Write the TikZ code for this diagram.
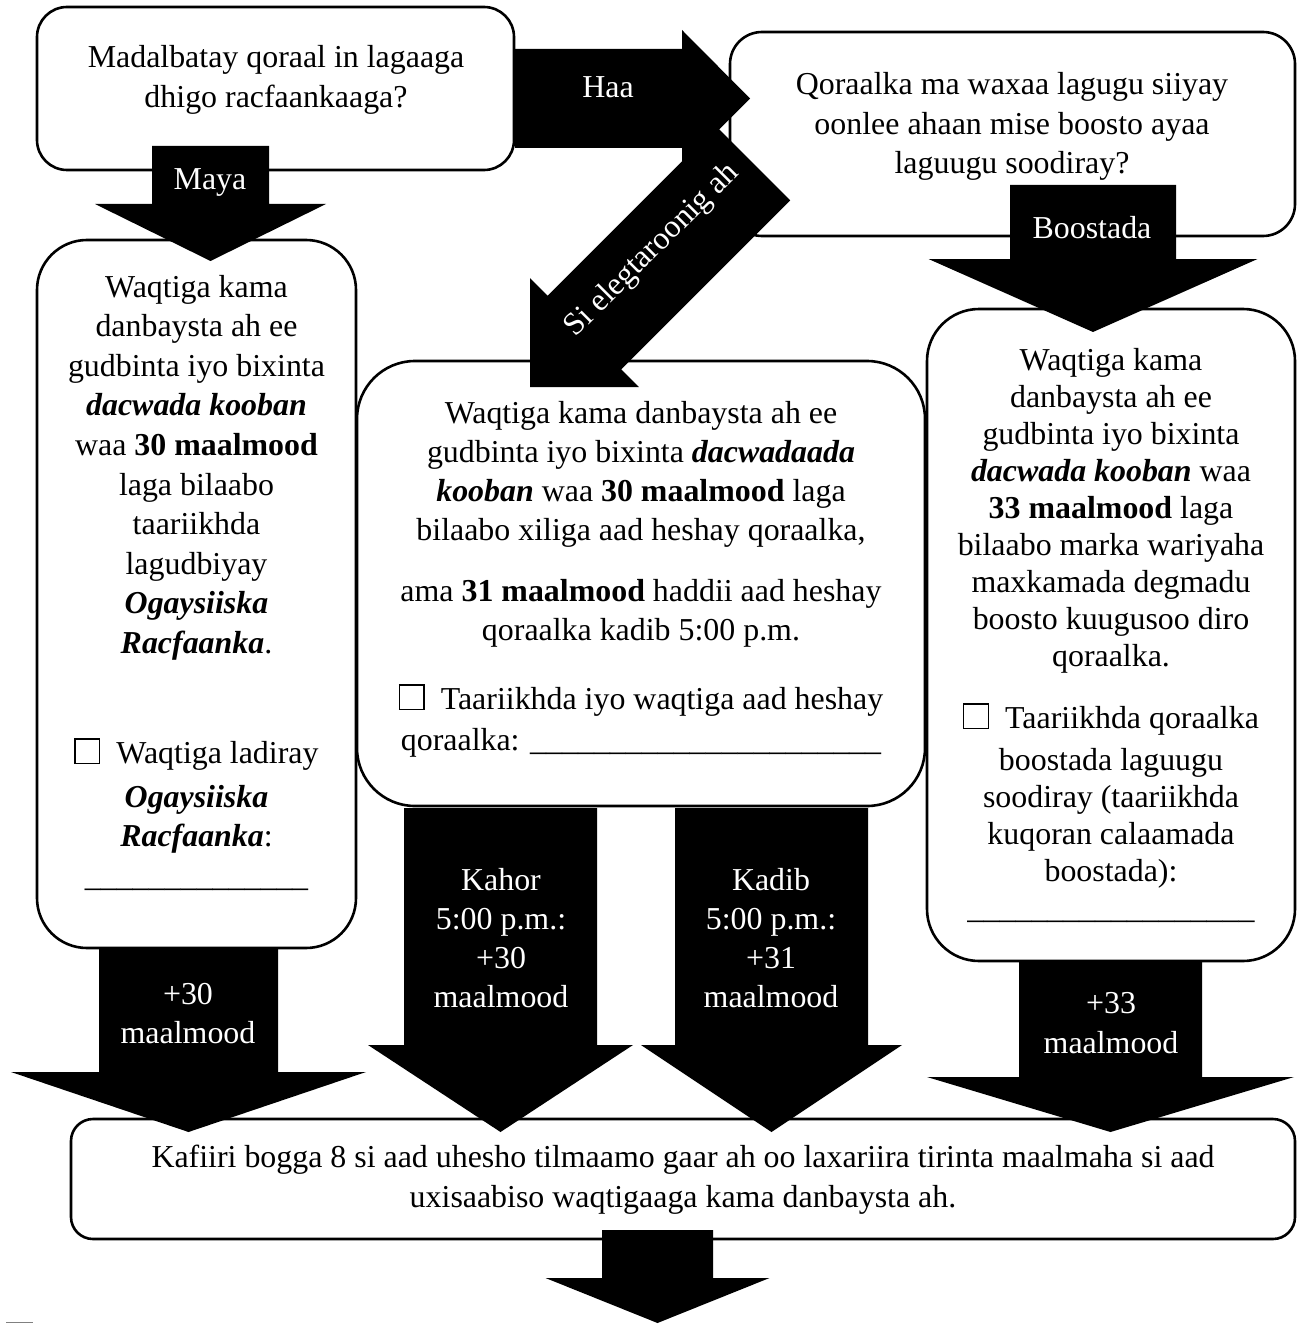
\documentclass[tikz,border=0pt]{standalone}
\usepackage{fontspec}
\setmainfont{Liberation Serif}
\usetikzlibrary{calc}

\newcommand\fl{\rule{0pt}{24pt}}
\newcommand\cbx{{\fboxsep=0pt\fboxrule=1.3pt\framebox{\rule{0pt}{23.4pt}\rule{23.4pt}{0pt}}}\hspace{16pt}}
\newcommand\bi[1]{\textbf{\textit{#1}}}
\newcommand\blockarr[5]{%
  \coordinate (tmpH) at ($(#2)!#5!(#1)$);
  \fill[arrowfill] ($(#1)!#3!90:(#2)$) -- ($(tmpH)!#3!90:(#2)$) -- ($(tmpH)!#4!90:(#2)$) -- (#2)
    -- ($(tmpH)!#4!-90:(#2)$) -- ($(tmpH)!#3!-90:(#2)$) -- ($(#1)!#3!-90:(#2)$) -- cycle;
}

\begin{document}
\begin{tikzpicture}[x=1pt,y=-1pt,
  box/.style={draw=black, line width=2.6pt, fill=white, inner sep=0pt, outer sep=0pt},
  txt/.style={anchor=north, inner sep=0pt, outer sep=0pt, align=center,
              font=\fontsize{31.9}{#1}\selectfont},
  txt/.default=40,
  lbl/.style={txt=#1, text=white},
  lbl/.default=40,
  arrowfill/.style={fill=black}]
\useasboundingbox (0,0) rectangle (1298,1324);

% ---------- boxes ----------
\node[box, rounded corners=30pt, minimum width=477pt, minimum height=163pt] (q1) at (275.5,88.5) {};
\node[box, rounded corners=32pt, minimum width=565pt, minimum height=204pt] (q2) at (1012.5,134) {};
\node[box, rounded corners=50pt, minimum width=319pt, minimum height=708pt] (bl) at (196.5,594) {};
\node[box, rounded corners=58pt, minimum width=568pt, minimum height=445pt] (bm) at (641,583.5) {};
\node[box, rounded corners=52pt, minimum width=368pt, minimum height=652pt] (br) at (1111,635) {};
\node[box, rounded corners=22pt, minimum width=1224pt, minimum height=120pt] (bb) at (683,1179) {};

% ---------- texts ----------
\node[txt=40] (t1) at (276,44) {\fl Madalbatay qoraal in lagaaga\\dhigo racfaankaaga?};
\node[txt=39.5] (t2) at (1012,71) {\fl Qoraalka ma waxaa lagugu siiyay\\oonlee ahaan mise boosto ayaa\\laguugu soodiray?};
\node[txt=39.6] (tl) at (196.5,273) {\fl Waqtiga kama\\danbaysta ah ee\\gudbinta iyo bixinta\\\bi{dacwada kooban}\\waa \textbf{30 maalmood}\\laga bilaabo\\taariikhda\\lagudbiyay\\\bi{Ogaysiiska}\\\bi{Racfaanka}.\\[70pt]\cbx Waqtiga ladiray\\[4.4pt]\bi{Ogaysiiska}\\\bi{Racfaanka}:\\\_\_\_\_\_\_\_\_\_\_\_\_\_\_};
\node[txt=39] (tm) at (641,399) {\fl Waqtiga kama danbaysta ah ee\\gudbinta iyo bixinta \bi{dacwadaada}\\\bi{kooban} waa \textbf{30 maalmood} laga\\bilaabo xiliga aad heshay qoraalka,\\[22pt]ama \textbf{31 maalmood} haddii aad heshay\\qoraalka kadib 5:00 p.m.\\[30pt]\cbx Taariikhda iyo waqtiga aad heshay\\[2pt]qoraalka: \_\_\_\_\_\_\_\_\_\_\_\_\_\_\_\_\_\_\_\_\_\_};
\node[txt=37] (tr) at (1111,346) {\fl Waqtiga kama\\danbaysta ah ee\\gudbinta iyo bixinta\\\bi{dacwada kooban} waa\\\textbf{33 maalmood} laga\\bilaabo marka wariyaha\\maxkamada degmadu\\boosto kuugusoo diro\\qoraalka.\\[25pt]\cbx Taariikhda qoraalka\\[5pt]boostada laguugu\\soodiray (taariikhda\\kuqoran calaamada\\boostada):\\\_\_\_\_\_\_\_\_\_\_\_\_\_\_\_\_\_\_};
\node[txt=40] (tb) at (683,1143) {\fl Kafiiri bogga 8 si aad uhesho tilmaamo gaar ah oo laxariira tirinta maalmaha si aad\\uxisaabiso waqtigaaga kama danbaysta ah.};

% ---------- block arrows ----------
\coordinate (mayaS) at (210.5,146);   \coordinate (mayaT) at (210.5,261);
\coordinate (haaS) at (515,98.5);     \coordinate (haaT) at (750,98.5);
\coordinate (elS) at (753.4,163.6);   \coordinate (elT) at (530,387);
\coordinate (boS) at (1093,185);      \coordinate (boT) at (1093,332);
\coordinate (lS) at (188.5,949);      \coordinate (lT) at (188.5,1132);
\coordinate (khS) at (500.5,808);     \coordinate (khT) at (500.5,1132);
\coordinate (kdS) at (771.5,808);     \coordinate (kdT) at (771.5,1132);
\coordinate (rS) at (1110.5,962);     \coordinate (rT) at (1110.5,1132);
\coordinate (bS) at (657.5,1230);     \coordinate (bT) at (657.5,1323);

\blockarr{mayaS}{mayaT}{58.5pt}{115.5pt}{57pt}
\blockarr{haaS}{haaT}{49.5pt}{68.5pt}{68pt}
\blockarr{elS}{elT}{52pt}{77pt}{77pt}
\blockarr{boS}{boT}{83pt}{164.5pt}{73pt}
\blockarr{lS}{lT}{89.5pt}{177.5pt}{60pt}
\blockarr{khS}{khT}{96.5pt}{132.5pt}{87pt}
\blockarr{kdS}{kdT}{96.5pt}{130.5pt}{87pt}
\blockarr{rS}{rT}{91.5pt}{183.5pt}{55pt}
\blockarr{bS}{bT}{55.5pt}{112pt}{45pt}

% ---------- arrow labels ----------
\node[lbl] (lmaya) at (210,166) {\fl Maya};
\node[lbl] (lhaa) at (608,74) {\fl Haa};
\node[lbl] (lboost) at (1092,215) {\fl Boostada};
\node[text=white, font=\fontsize{31.9}{40}\selectfont, inner sep=0pt, rotate=45] (lel) at (652.3,250.5) {Si elegtaroonig ah};
\node[lbl=39] (l30) at (188,980) {\fl +30\\maalmood};
\node[lbl=39.3] (lkh) at (501,866) {\fl Kahor\\5:00 p.m.:\\+30\\maalmood};
\node[lbl=39.3] (lkd) at (771,866) {\fl Kadib\\5:00 p.m.:\\+31\\maalmood};
\node[lbl=40] (l33) at (1111,989) {\fl +33\\maalmood};

% clipped mark at the lower left edge
\draw[gray, line width=1.5pt] (6,1322.5) -- (33,1322.5);
\end{tikzpicture}
\end{document}
